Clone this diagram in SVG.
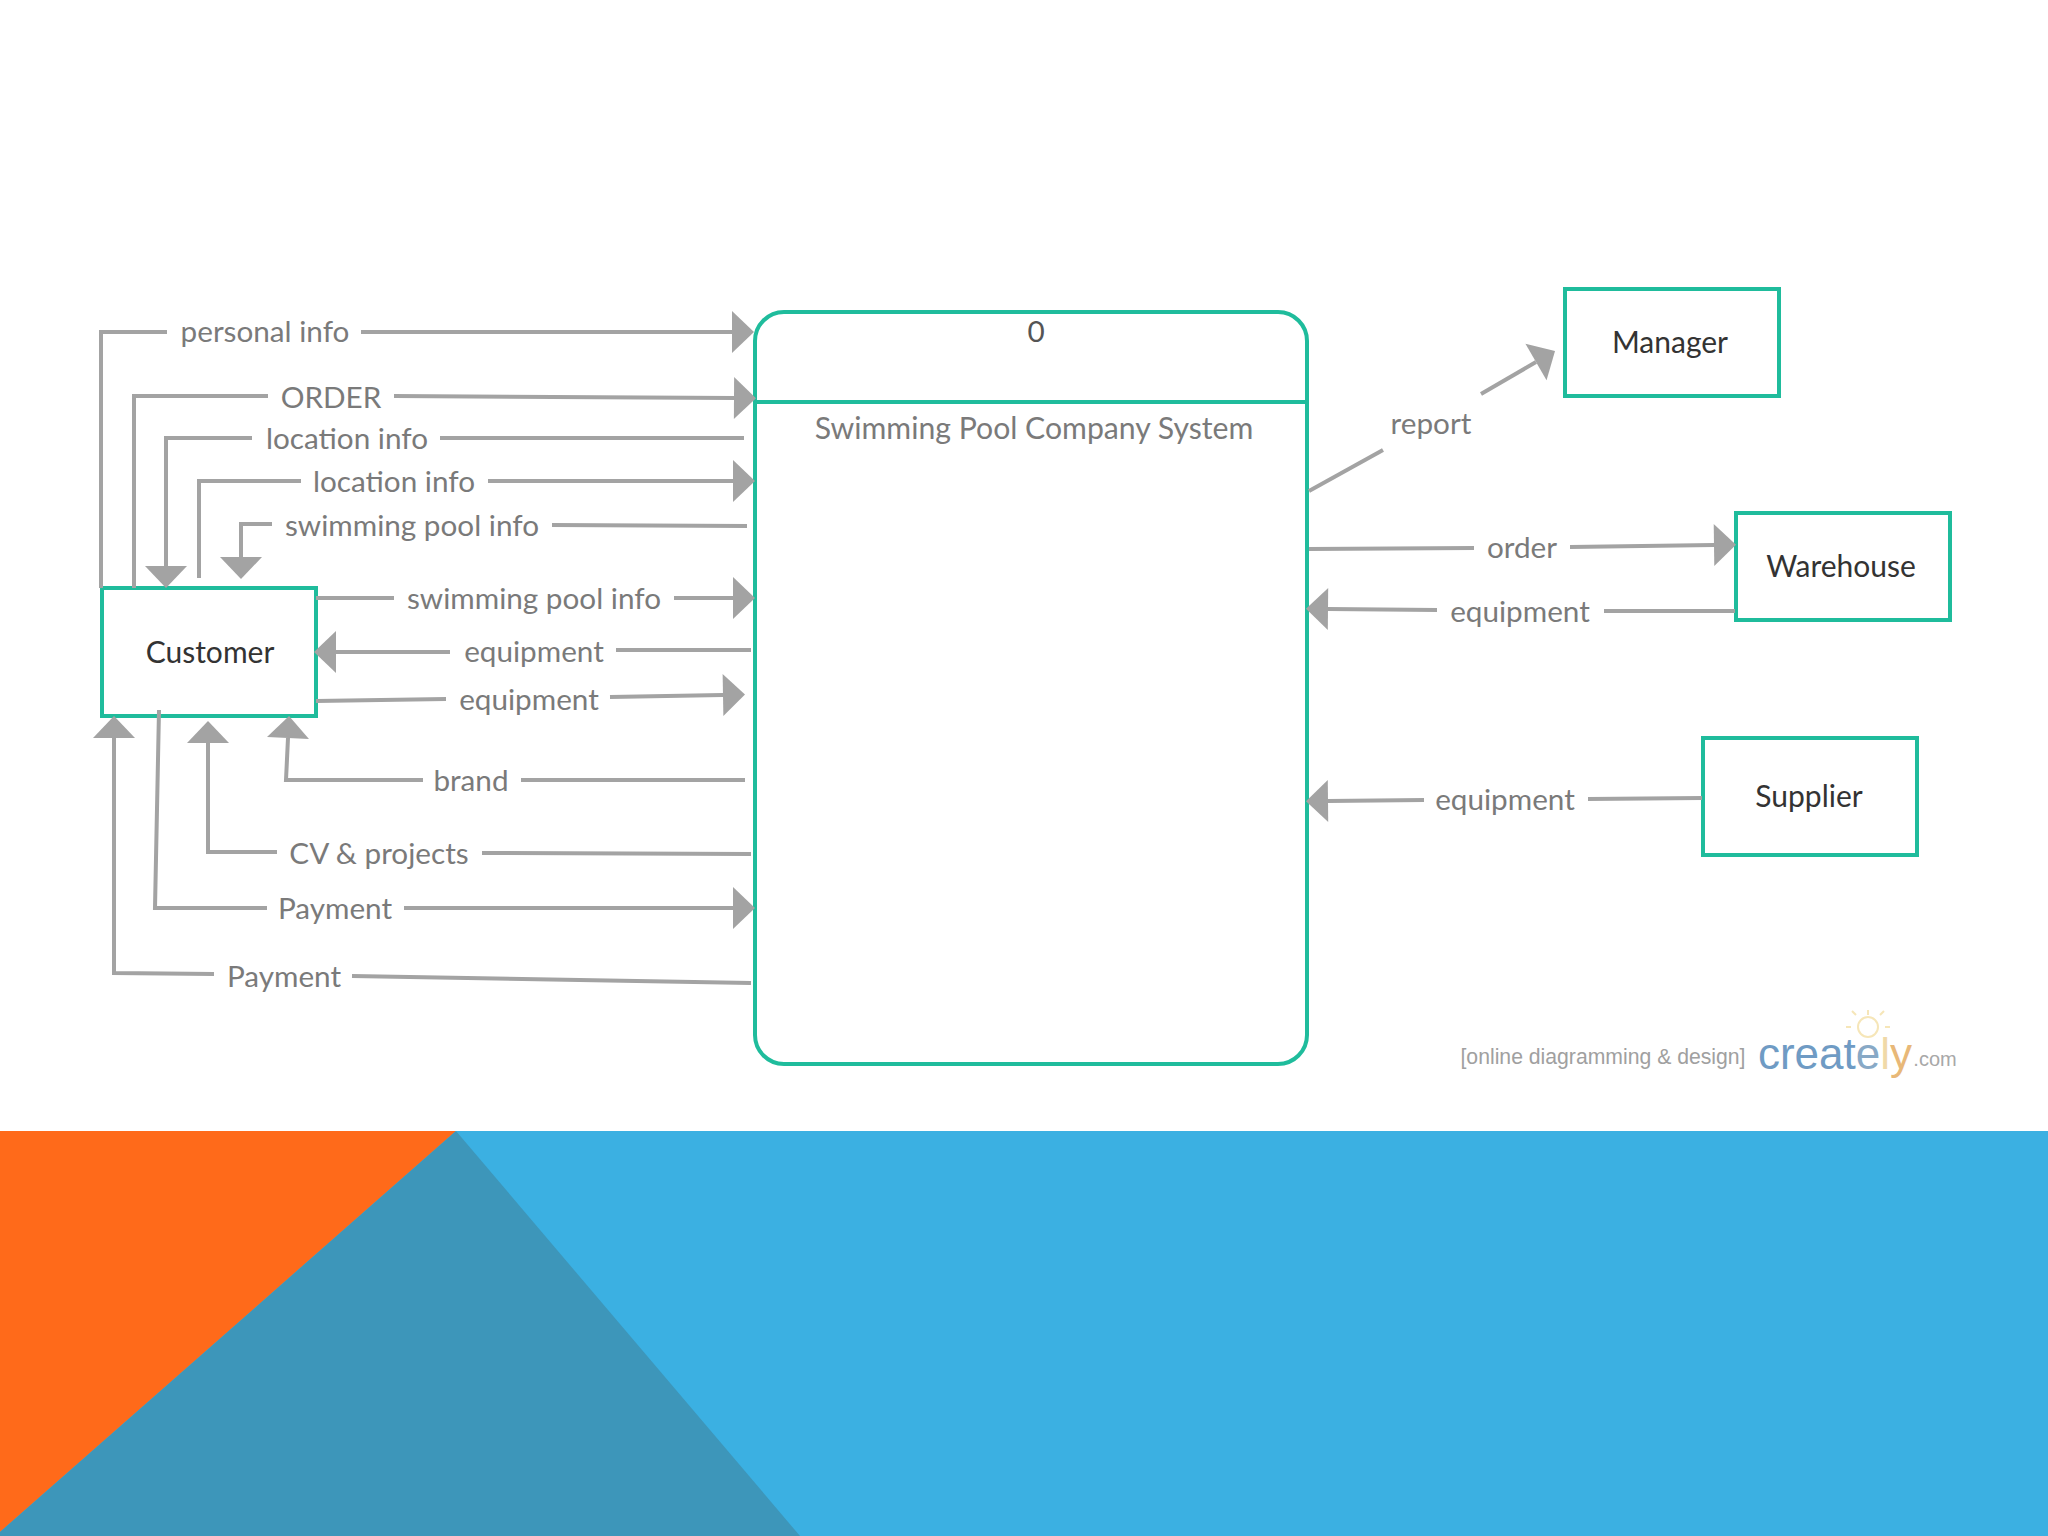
<svg xmlns="http://www.w3.org/2000/svg" width="2048" height="1536" viewBox="0 0 2048 1536">
<style>
.node{fill:#fff;stroke:#1fbc9c;stroke-width:4}
.c{fill:none;stroke:#a3a3a3;stroke-width:4;stroke-linejoin:miter}
.a{marker-end:url(#h)}
text{font-family:"Lato","Carlito","Noto Sans",sans-serif;text-anchor:middle}
.l{font-size:29.7px;fill:#7a7a7a}
.n{font-size:30px;fill:#333}
</style>
<defs>
<marker id="h" markerUnits="userSpaceOnUse" markerWidth="26" markerHeight="44" refX="0" refY="22" orient="auto" overflow="visible">
<path d="M0,1 L22,22 L0,43 Z" fill="#a3a3a3"/>
</marker>
</defs>
<rect width="2048" height="1536" fill="#fff"/>
<g id="background">
<rect y="1131" width="2048" height="405" fill="#3bb0e2"/>
<path d="M0,1131 H456 L0,1532 Z" fill="#ff6a1a"/>
<path d="M456,1131 L800,1536 H0 V1532 Z" fill="#3d96ba"/>
</g>
<g id="system">
<rect class="node" x="755" y="312" width="552" height="752" rx="29"/>
<path d="M755,402 H1307" fill="none" stroke="#1fbc9c" stroke-width="4"/>
<text class="l" x="1036" y="342" style="fill:#555">0</text>
<text class="l" x="1034" y="439" style="font-size:30.2px">Swimming Pool Company System</text>
</g>
<g id="customer"><rect class="node" x="102" y="588" width="214" height="128"/><text class="n" x="210" y="663">Customer</text></g>
<g id="manager"><rect class="node" x="1565" y="289" width="214" height="107"/><text class="n" x="1670" y="353">Manager</text></g>
<g id="warehouse"><rect class="node" x="1736" y="513" width="214" height="107"/><text class="n" x="1841" y="577">Warehouse</text></g>
<g id="supplier"><rect class="node" x="1703" y="738" width="214" height="117"/><text class="n" x="1809" y="807">Supplier</text></g>
<g id="connectors">
<path class="c" d="M101,588 V332 H167"/><path class="c a" d="M361,332 H732"/>
<path class="c" d="M134,588 V396 H268"/><path class="c a" d="M394,396 L734,398"/>
<path class="c" d="M744,438 H440"/><path class="c a" d="M252,438 H166 V566"/>
<path class="c" d="M199,578 V481 H301"/><path class="c a" d="M488,481 H733"/>
<path class="c" d="M747,526 L552,525"/><path class="c a" d="M272,524 H241 V557"/>
<path class="c" d="M316,598 H394"/><path class="c a" d="M674,598 H733"/>
<path class="c" d="M751,650 H616"/><path class="c a" d="M450,652 H336"/>
<path class="c" d="M316,701 L446,699"/><path class="c a" d="M610,697 L723,695"/>
<path class="c" d="M745,780 H521"/><path class="c a" d="M423,780 H286 L288,738"/>
<path class="c" d="M751,854 L482,853"/><path class="c a" d="M277,852 H208 V743"/>
<path class="c" d="M159,710 L155,908 H267"/><path class="c a" d="M404,908 H733"/>
<path class="c" d="M751,983 L352,976"/><path class="c a" d="M214,974 L114,973 V738"/>
<path class="c" d="M1309,491 L1383,450"/><path class="c a" d="M1481,394 L1536,362"/>
<path class="c" d="M1309,549 L1474,548"/><path class="c a" d="M1570,547 L1714,545"/>
<path class="c" d="M1735,611 L1604,611"/><path class="c a" d="M1437,610 L1328,609"/>
<path class="c" d="M1702,798 L1588,799"/><path class="c a" d="M1424,800 L1328,801"/>
</g>
<g id="labels">
<text class="l" x="265" y="342">personal info</text>
<text class="l" x="331" y="408">ORDER</text>
<text class="l" x="347" y="449">location info</text>
<text class="l" x="394" y="492">location info</text>
<text class="l" x="412" y="536">swimming pool info</text>
<text class="l" x="534" y="609">swimming pool info</text>
<text class="l" x="534" y="662">equipment</text>
<text class="l" x="529" y="710">equipment</text>
<text class="l" x="471" y="791">brand</text>
<text class="l" x="379" y="864">CV &amp; projects</text>
<text class="l" x="335" y="919">Payment</text>
<text class="l" x="284" y="987">Payment</text>
<text class="l" x="1431" y="434">report</text>
<text class="l" x="1522" y="558">order</text>
<text class="l" x="1520" y="622">equipment</text>
<text class="l" x="1505" y="810">equipment</text>
</g>
<g id="watermark">
<g fill="none" stroke="#f6e6b8" stroke-width="2"><circle cx="1868" cy="1027" r="10"/><path d="M1868,1010 V1015 M1851,1027 H1846 M1885,1027 H1890 M1856,1015 L1852,1011 M1880,1015 L1884,1011"/></g>
<text x="1603" y="1064" style="font-family:'Liberation Sans',sans-serif;font-size:21.2px;fill:#a0a0a0">[online diagramming &amp; design]</text>
<text x="1835" y="1069" style="font-family:'Liberation Sans',sans-serif;font-size:44px;fill:#6f9bc4">creat<tspan fill="#88a9c6">e</tspan><tspan fill="#f0d9a8">l</tspan><tspan fill="#e8b878">y</tspan></text>
<text x="1935" y="1066" style="font-family:'Liberation Sans',sans-serif;font-size:20px;fill:#a8a8a8">.com</text>
</g>
</svg>
